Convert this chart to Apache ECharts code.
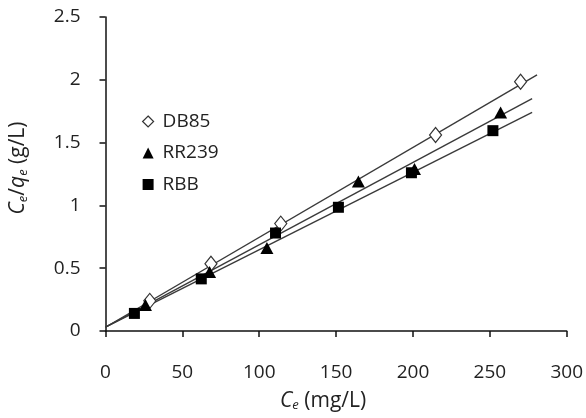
<!DOCTYPE html>
<html>
<head>
<meta charset="utf-8">
<script src="https://cdn.jsdelivr.net/npm/echarts@6/dist/echarts.min.js"></script>
<style>html,body{margin:0;padding:0;background:#fff;}#c{width:586px;height:418px;}</style>
</head>
<body>
<div id="c"></div>
<script>
// Data
const seriesNames = ['DB85', 'RR239', 'RBB'];
const db85 = [[28.8, 0.24], [68.6, 0.535], [114, 0.855], [214.7, 1.56], [270, 1.985]];
const rr239 = [[26, 0.207], [67.7, 0.47], [105, 0.66], [164.5, 1.19], [201, 1.29], [257, 1.74]];
const rbb = [[18.8, 0.14], [62.3, 0.415], [110.6, 0.78], [151.5, 0.985], [199, 1.26], [252, 1.595]];
// fitted trend lines (endpoints)
const db85Fit = [[0, 0.03], [280.7, 2.04]];
const rr239Fit = [[0, 0.03], [277.5, 1.85]];
const rbbFit = [[0, 0.03], [277.5, 1.74]];
const xTicks = [0, 50, 100, 150, 200, 250, 300];
const yTicks = [0, 0.5, 1, 1.5, 2, 2.5];

const font = 'Open Sans, Liberation Sans, sans-serif';
const chart = echarts.init(document.getElementById('c'), null, {renderer: 'canvas'});
const lineStyle = {color: '#3a3a3a', width: 1.4};
const axisCommon = {
  axisLine: {show: true, onZero: false, lineStyle: {color: '#111', width: 1.5}},
  axisTick: {show: true, inside: false, length: 6, lineStyle: {color: '#111', width: 1.5}},
  splitLine: {show: false}
};
const nameRich = {
  i: {fontStyle: 'italic', fontSize: 21, fontFamily: font, color: '#222'},
  n: {fontSize: 21, fontFamily: font, color: '#222'},
  s: {fontStyle: 'italic', fontSize: 13, fontFamily: font, color: '#222', verticalAlign: 'bottom', padding: [9, 0, 0, 0]}
};
chart.setOption({
  animation: false,
  backgroundColor: '#fff',
  grid: {left: 105, right: 19, top: 17, bottom: 87, containLabel: false},
  legend: {
    orient: 'vertical', left: 137, top: 107, itemGap: 12.5,
    itemWidth: 11, itemHeight: 11,
    textStyle: {color: '#222', fontSize: 19, fontFamily: font, padding: [0, 0, 0, 4]},
    data: [
      {name: 'DB85', icon: 'diamond', itemStyle: {color: '#fff', borderColor: '#333', borderWidth: 1.2}},
      {name: 'RR239', icon: 'triangle', itemStyle: {color: '#000'}},
      {name: 'RBB', icon: 'rect', itemStyle: {color: '#000'}}
    ]
  },
  xAxis: Object.assign({
    type: 'value', min: xTicks[0], max: xTicks[xTicks.length - 1], interval: 50,
    name: '{i|C}{s|e}{n| (mg/L)}', nameLocation: 'middle', nameGap: 59,
    nameTextStyle: {color: '#222', fontSize: 21, fontFamily: font, padding: [0, 26, 0, 0], rich: nameRich},
    axisLabel: {color: '#222', fontSize: 19, fontFamily: font, margin: 32}
  }, axisCommon),
  yAxis: Object.assign({
    type: 'value', min: yTicks[0], max: yTicks[yTicks.length - 1], interval: 0.5,
    name: '{i|C}{s|e}{n|/}{i|q}{s|e}{n| (g/L)}', nameLocation: 'middle', nameGap: 76, nameRotate: 90,
    nameTextStyle: {color: '#222', fontSize: 21, fontFamily: font, padding: [0, 0, 0, 12], rich: nameRich},
    axisLabel: {color: '#222', fontSize: 19, fontFamily: font, margin: 25}
  }, axisCommon),
  series: [
    {type: 'line', name: 'fit1', data: db85Fit, showSymbol: false, symbol: 'none', lineStyle: lineStyle, silent: true, z: 1},
    {type: 'line', name: 'fit2', data: rr239Fit, showSymbol: false, symbol: 'none', lineStyle: lineStyle, silent: true, z: 1},
    {type: 'line', name: 'fit3', data: rbbFit, showSymbol: false, symbol: 'none', lineStyle: lineStyle, silent: true, z: 1},
    {type: 'scatter', name: seriesNames[0], data: db85, symbol: 'diamond', symbolSize: [12, 15],
      itemStyle: {color: '#fff', borderColor: '#333', borderWidth: 1.2, opacity: 1}, z: 3},
    {type: 'scatter', name: seriesNames[1], data: rr239, symbol: 'triangle', symbolSize: [13, 12],
      itemStyle: {color: '#000', opacity: 1}, z: 3},
    {type: 'scatter', name: seriesNames[2], data: rbb, symbol: 'rect', symbolSize: [11, 11],
      itemStyle: {color: '#000', opacity: 1}, z: 3}
  ]
});
</script>
</body>
</html>
